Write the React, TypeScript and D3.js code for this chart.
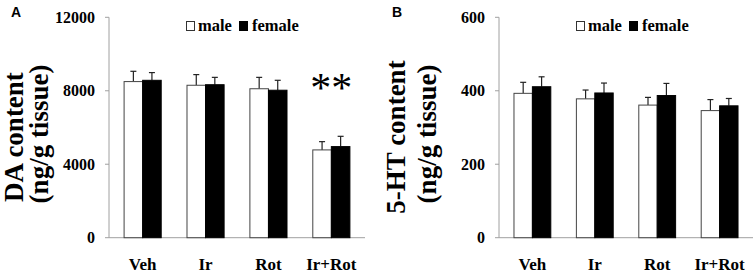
import React from "react";
import * as d3 from "d3";

const categories = ["Veh", "Ir", "Rot", "Ir+Rot"];
const seriesNames = ["male", "female"];

const daMale = [8500, 8300, 8110, 4780];
const daMaleErr = [560, 580, 620, 450];
const daFemale = [8570, 8330, 8030, 4960];
const daFemaleErr = [420, 400, 540, 560];
const daTicks = [0, 4000, 8000, 12000];

const htMale = [393, 378, 361, 346];
const htMaleErr = [30, 24, 21, 30];
const htFemale = [411, 394, 387, 359];
const htFemaleErr = [27, 27, 33, 20];
const htTicks = [0, 200, 400, 600];

const SERIF = "'Liberation Serif', 'Times New Roman', serif";
const SANS = "'Liberation Sans', Arial, sans-serif";

type PanelProps = {
  letter: string;
  letterX: number;
  axisX0: number;
  axisX1: number;
  ticks: number[];
  male: number[];
  maleErr: number[];
  female: number[];
  femaleErr: number[];
  label1: string;
  label1X: number;
  label2X: number;
  legendX: number;
  stars?: number;
};

function Panel(p: PanelProps) {
  const yTop = 17.3;
  const yBottom = 237.7;
  const y = d3.scaleLinear().domain([0, p.ticks[p.ticks.length - 1]]).range([yBottom, yTop]);
  const x = d3.scaleBand<string>().domain(categories).range([p.axisX0, p.axisX1]).paddingInner(0.41).paddingOuter(0.24);
  const sub = d3.scaleBand<string>().domain(seriesNames).range([0, x.bandwidth()]);
  const bw = sub.bandwidth();
  const groups = [
    { name: "male", vals: p.male, errs: p.maleErr, fill: "#ffffff" },
    { name: "female", vals: p.female, errs: p.femaleErr, fill: "#000000" },
  ];
  const midY = 137;
  return (
    <g>
      <text x={p.letterX} y={17} fontFamily={SANS} fontWeight="bold" fontSize={14} fill="#000">
        {p.letter}
      </text>
      <text
        transform={`translate(${p.label1X},${midY}) rotate(-90)`}
        textAnchor="middle"
        fontFamily={SERIF}
        fontWeight="bold"
        fontSize={27}
        fill="#000"
      >
        {p.label1}
      </text>
      <text
        transform={`translate(${p.label2X},${midY - 3}) rotate(-90)`}
        textAnchor="middle"
        fontFamily={SERIF}
        fontWeight="bold"
        fontSize={27}
        fill="#000"
      >
        (ng/g tissue)
      </text>
      <line x1={p.axisX0} x2={p.axisX0} y1={yTop} y2={yBottom} stroke="#a0a0a0" strokeWidth={1} />
      <line x1={p.axisX0} x2={p.axisX1} y1={yBottom} y2={yBottom} stroke="#a0a0a0" strokeWidth={1} />
      {p.ticks.map((t) => (
        <g key={t}>
          <line x1={p.axisX0 - 4} x2={p.axisX0} y1={y(t)} y2={y(t)} stroke="#a0a0a0" strokeWidth={1} />
          <text
            x={p.axisX0 - 14}
            y={y(t) + 5.5}
            textAnchor="end"
            fontFamily={SERIF}
            fontWeight="bold"
            fontSize={16}
            fill="#000"
          >
            {t}
          </text>
        </g>
      ))}
      {categories.map((c, i) => (
        <g key={c}>
          {groups.map((g) => {
            const bx = (x(c) as number) + (sub(g.name) as number);
            const cx = bx + bw / 2;
            const top = y(g.vals[i]);
            const et = y(g.vals[i] + g.errs[i]);
            return (
              <g key={g.name}>
                <line x1={cx} x2={cx} y1={top} y2={et} stroke="#222" strokeWidth={1.2} />
                <line x1={cx - 3} x2={cx + 3} y1={et} y2={et} stroke="#222" strokeWidth={1.2} />
                <rect
                  x={bx}
                  y={top}
                  width={bw}
                  height={yBottom - top}
                  fill={g.fill}
                  stroke={g.name === "male" ? "#444" : "#000"}
                  strokeWidth={1}
                />
              </g>
            );
          })}
          <text
            x={(x(c) as number) + x.bandwidth() / 2}
            y={270}
            textAnchor="middle"
            fontFamily={SERIF}
            fontWeight="bold"
            fontSize={17}
            fill="#000"
          >
            {c}
          </text>
        </g>
      ))}
      {p.stars !== undefined && (
        <text
          x={(x(categories[p.stars]) as number) + x.bandwidth() / 2}
          y={102}
          textAnchor="middle"
          fontFamily={SERIF}
          fontSize={42}
          fill="#000"
        >
          **
        </text>
      )}
      <g transform={`translate(${p.legendX},0)`}>
        <rect x={0.5} y={21.5} width={8} height={9} fill="#fff" stroke="#333" strokeWidth={1} />
        <text x={12} y={31} fontFamily={SERIF} fontWeight="bold" fontSize={16.5} fill="#000">
          male
        </text>
        <rect x={53} y={21} width={9} height={10} fill="#000" />
        <text x={66} y={31} fontFamily={SERIF} fontWeight="bold" fontSize={16.5} fill="#000">
          female
        </text>
      </g>
    </g>
  );
}

export default function App() {
  return (
    <svg
      width={756}
      height={273}
      viewBox="0 0 756 273"
      style={{ position: "absolute", left: 0, top: 0, background: "#fff" }}
    >
      <rect width={756} height={273} fill="#fff" />
      <Panel
        letter="A"
        letterX={11}
        axisX0={109}
        axisX1={365}
        ticks={daTicks}
        male={daMale}
        maleErr={daMaleErr}
        female={daFemale}
        femaleErr={daFemaleErr}
        label1="DA content"
        label1X={23}
        label2X={48}
        legendX={186}
        stars={3}
      />
      <Panel
        letter="B"
        letterX={392}
        axisX0={499}
        axisX1={753}
        ticks={htTicks}
        male={htMale}
        maleErr={htMaleErr}
        female={htFemale}
        femaleErr={htFemaleErr}
        label1="5-HT content"
        label1X={405}
        label2X={436}
        legendX={576}
      />
    </svg>
  );
}
